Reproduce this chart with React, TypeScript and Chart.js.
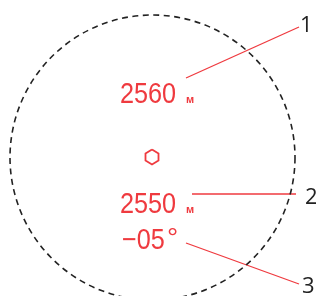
import React, { useEffect, useRef } from "react";
import { Chart, registerables } from "chart.js";

Chart.register(...registerables);

// Display readings (text), their anchor (left, baseline) in diagram units
const readings = ["2560", "2550", "−05"];
const readingX = [120, 120, 122];
const readingY = [103, 213, 249];
const units = ["м", "м", "°"];
const unitX = [186, 186, 167];
const unitY = [103, 213, 247];
const unitSize = [11, 11, 28];

// Leader lines from readings to callout numbers
const leaderFromX = [186, 192, 186];
const leaderFromY = [78, 194, 243];
const leaderToX = [299, 296, 299];
const leaderToY = [27, 194, 284];
const callouts = ["1", "2", "3"];
const calloutX = [300, 305, 302];
const calloutY = [32, 204, 293];

// Aiming hexagon vertices
const hexX = [152, 158.5, 158.5, 152, 145.5, 145.5, 152];
const hexY = [149.5, 153.5, 160.5, 164.5, 160.5, 153.5, 149.5];

// Field-of-view circle
const circleCenterX = [152.5];
const circleCenterY = [157.5];
const circleRadius = [142.5];

const RED = "#ef3a3f";
const INK = "#222222";

const overlayPlugin = {
  id: "overlay",
  afterDatasetsDraw(chart: any) {
    const ctx = chart.ctx;
    const xs = chart.scales.x;
    const ys = chart.scales.y;
    const px = (v: number) => xs.getPixelForValue(v);
    const py = (v: number) => ys.getPixelForValue(v);
    ctx.save();
    // circle
    const cx = px(circleCenterX[0]);
    const cy = py(circleCenterY[0]);
    const r = px(circleCenterX[0] + circleRadius[0]) - cx;
    ctx.beginPath();
    ctx.setLineDash([6, 4.5]);
    ctx.lineWidth = 1.6;
    ctx.strokeStyle = INK;
    ctx.arc(cx, cy, r, 0, Math.PI * 2);
    ctx.stroke();
    ctx.setLineDash([]);
    // readings
    ctx.fillStyle = RED;
    ctx.textBaseline = "alphabetic";
    ctx.textAlign = "left";
    ctx.font = "29px 'Liberation Sans', sans-serif";
    readings.forEach((t, i) => {
      ctx.save();
      ctx.translate(px(readingX[i]), py(readingY[i]));
      ctx.scale(0.87, 1);
      ctx.fillText(t, 0, 0);
      ctx.restore();
    });
    units.forEach((t, i) => {
      ctx.font = (unitSize[i] < 15 ? "bold " : "") + unitSize[i] + "px 'Liberation Sans', sans-serif";
      ctx.fillText(t, px(unitX[i]), py(unitY[i]));
    });
    // callouts
    ctx.fillStyle = INK;
    ctx.font = "22px 'Open Sans', 'Liberation Sans', sans-serif";
    callouts.forEach((t, i) => ctx.fillText(t, px(calloutX[i]), py(calloutY[i])));
    ctx.restore();
  },
};

export default function App() {
  const ref = useRef<HTMLCanvasElement | null>(null);
  useEffect(() => {
    document.body.style.margin = "0";
    const leaders = leaderFromX.map((_, i) => ({
      data: [
        { x: leaderFromX[i], y: leaderFromY[i] },
        { x: leaderToX[i], y: leaderToY[i] },
      ],
      showLine: true,
      borderColor: RED,
      borderWidth: 1.3,
      pointRadius: 0,
      clip: false as any,
    }));
    const hex = {
      data: hexX.map((x, i) => ({ x, y: hexY[i] })),
      showLine: true,
      borderColor: RED,
      borderWidth: 1.8,
      pointRadius: 0,
      clip: false as any,
    };
    const chart = new Chart(ref.current!, {
      type: "scatter",
      data: { datasets: [...leaders, hex] as any },
      options: {
        responsive: false,
        animation: false,
        layout: { padding: 0 },
        plugins: { legend: { display: false }, tooltip: { enabled: false } },
        scales: {
          x: { type: "linear", min: 0, max: 316, display: false },
          y: { type: "linear", min: 0, max: 296, reverse: true, display: false },
        },
      },
      plugins: [overlayPlugin],
    });
    return () => chart.destroy();
  }, []);
  return (
    <div style={{ width: 316, height: 296, background: "#fff" }}>
      <canvas ref={ref} width={316} height={296} />
    </div>
  );
}
